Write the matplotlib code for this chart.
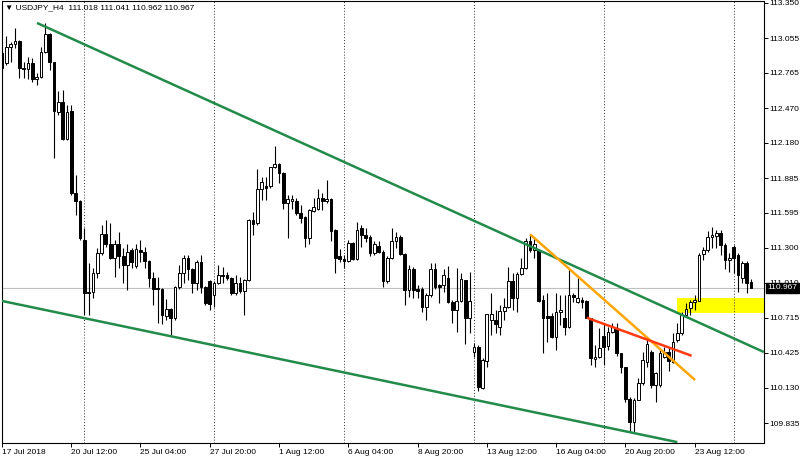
import numpy as np
import matplotlib.pyplot as plt

plt.rcParams['font.family'] = ['Liberation Sans', 'DejaVu Sans']

# USDJPY H4 candles, 17 Jul 2018 20:00 onward
opens = [
    112.93, 112.85, 112.98, 113.01, 113.03, 112.81, 112.80, 112.85, 112.71, 112.73,
    112.94, 113.09, 112.86, 112.44, 112.52, 112.21, 112.45, 111.76, 111.69, 111.37,
    110.93, 110.93, 111.09, 111.26, 111.42, 111.33, 111.22, 111.33, 111.23, 111.16,
    111.28, 111.15, 111.28, 111.27, 111.19, 111.05, 110.96, 110.96, 110.73, 110.79,
    110.71, 110.97, 111.09, 111.22, 111.12, 111.01, 111.18, 110.97, 111.02, 110.91,
    111.01, 111.075, 111.07, 111.05, 110.92, 111.01, 110.94, 111.03, 111.53, 111.51,
    111.79, 111.82, 111.82, 111.98, 112.00, 111.93, 111.68, 111.69, 111.69, 111.59,
    111.56, 111.38, 111.61, 111.63, 111.72, 111.69, 111.71, 111.45, 111.23, 111.21,
    111.19, 111.34, 111.21, 111.47, 111.41, 111.39, 111.26, 111.32, 111.27, 111.02,
    111.22, 111.36, 111.39, 111.25, 110.95, 111.12, 110.96, 110.96, 110.81, 110.91,
    111.12, 110.99, 110.99, 111.05, 110.85, 110.78, 110.86, 111.03, 110.71, 110.43,
    110.47, 110.13, 110.35, 110.70, 110.70, 110.64, 110.77, 110.81, 111.02, 110.88,
    111.08, 111.13, 111.36, 111.28, 111.28, 110.865, 110.73, 110.73, 110.555, 110.765,
    110.71, 110.64, 110.91, 110.85, 110.865, 110.86, 110.71, 110.37, 110.39, 110.56,
    110.48, 110.60, 110.63, 110.42, 110.30, 110.04, 109.84, 110.03, 110.17, 110.345,
    110.43, 110.155, 110.155, 110.39, 110.43, 110.345, 110.53, 110.59, 110.74, 110.80,
    110.85, 110.86, 111.25, 111.28, 111.39, 111.40, 111.425, 111.325, 111.20, 111.31,
    111.24, 111.05, 111.175, 111.018,
]
highs = [
    112.96, 113.07, 113.02, 113.14, 113.04, 112.86, 112.90, 112.89, 112.76, 112.98,
    113.18, 113.10, 112.86, 112.61, 112.62, 112.50, 112.50, 111.91, 111.70, 111.47,
    111.17, 111.13, 111.30, 111.49, 111.53, 111.51, 111.37, 111.43, 111.30, 111.33,
    111.30, 111.33, 111.37, 111.31, 111.20, 111.10, 111.06, 110.965, 110.87, 110.80,
    110.98, 111.16, 111.24, 111.24, 111.13, 111.20, 111.24, 110.98, 111.03, 111.02,
    111.16, 111.14, 111.10, 111.06, 111.07, 111.06, 111.04, 111.54, 111.60, 111.96,
    111.89, 111.89, 111.98, 112.15, 112.01, 111.935, 111.74, 111.74, 111.72, 111.66,
    111.565, 111.63, 111.72, 111.79, 111.76, 111.87, 111.72, 111.455, 111.29, 111.24,
    111.37, 111.35, 111.52, 111.49, 111.47, 111.41, 111.36, 111.36, 111.28, 111.23,
    111.47, 111.43, 111.41, 111.26, 111.16, 111.14, 110.99, 110.97, 110.92, 111.17,
    111.17, 110.995, 111.12, 111.15, 110.865, 111.13, 111.09, 111.035, 111.10, 110.505,
    110.49, 110.38, 110.75, 110.92, 110.78, 110.82, 110.88, 111.14, 111.09, 111.10,
    111.22, 111.38, 111.42, 111.38, 111.29, 110.91, 110.92, 110.755, 110.92, 110.91,
    110.905, 111.12, 110.92, 111.05, 110.89, 110.865, 110.715, 110.49, 110.63, 110.66,
    110.64, 110.67, 110.67, 110.425, 110.305, 110.05, 110.045, 110.21, 110.43, 110.53,
    110.45, 110.26, 110.45, 110.47, 110.47, 110.59, 110.67, 110.76, 110.84, 110.865,
    110.905, 111.26, 111.31, 111.44, 111.475, 111.45, 111.45, 111.34, 111.26, 111.325,
    111.26, 111.19, 111.19, 111.041,
]
lows = [
    112.80, 112.83, 112.86, 112.97, 112.72, 112.72, 112.71, 112.69, 112.66, 112.72,
    112.93, 112.79, 112.05, 112.41, 112.20, 112.20, 111.74, 111.58, 111.37, 110.74,
    110.74, 110.88, 111.05, 111.24, 111.31, 111.21, 111.06, 111.13, 111.01, 110.95,
    111.13, 111.13, 111.18, 111.13, 110.97, 110.82, 110.67, 110.66, 110.70, 110.57,
    110.70, 110.96, 111.01, 111.03, 110.92, 110.95, 110.92, 110.82, 110.78, 110.81,
    111.00, 111.01, 111.03, 110.91, 110.91, 110.92, 110.74, 111.02, 111.41, 111.49,
    111.70, 111.70, 111.80, 111.97, 111.84, 111.63, 111.38, 111.63, 111.58, 111.51,
    111.31, 111.33, 111.60, 111.62, 111.62, 111.68, 111.36, 111.09, 111.18, 111.13,
    111.18, 111.20, 111.20, 111.31, 111.35, 111.23, 111.24, 111.26, 110.97, 111.01,
    111.21, 111.30, 111.24, 110.82, 110.89, 110.88, 110.88, 110.76, 110.70, 110.89,
    110.96, 110.84, 110.93, 110.84, 110.67, 110.60, 110.85, 110.50, 110.59, 110.39,
    110.10, 110.12, 110.30, 110.57, 110.59, 110.57, 110.70, 110.80, 110.78, 110.76,
    111.07, 111.12, 111.27, 111.22, 110.85, 110.42, 110.51, 110.55, 110.45, 110.655,
    110.57, 110.63, 110.85, 110.84, 110.80, 110.71, 110.32, 110.30, 110.38, 110.32,
    110.45, 110.59, 110.40, 110.25, 110.01, 109.76, 109.75, 110.025, 110.155, 110.30,
    110.13, 110.01, 110.14, 110.38, 110.27, 110.34, 110.51, 110.57, 110.72, 110.74,
    110.78, 110.855, 111.20, 111.27, 111.30, 111.30, 111.24, 111.12, 111.10, 111.09,
    110.93, 111.01, 110.92, 110.962,
]
closes = [
    112.81, 112.98, 113.01, 113.03, 112.81, 112.80, 112.85, 112.71, 112.73, 112.94,
    113.09, 112.86, 112.45, 112.52, 112.21, 112.44, 111.76, 111.69, 111.38, 110.92,
    110.92, 111.09, 111.26, 111.42, 111.33, 111.22, 111.33, 111.23, 111.16, 111.27,
    111.18, 111.29, 111.27, 111.19, 111.05, 110.96, 110.955, 110.74, 110.79, 110.71,
    110.97, 111.09, 111.22, 111.12, 111.01, 111.18, 110.97, 110.84, 110.83, 111.01,
    111.07, 111.065, 111.05, 110.92, 111.01, 110.94, 111.03, 111.53, 111.50, 111.79,
    111.85, 111.80, 111.98, 112.00, 111.93, 111.68, 111.71, 111.71, 111.59, 111.55,
    111.38, 111.62, 111.64, 111.72, 111.69, 111.71, 111.44, 111.22, 111.21, 111.19,
    111.34, 111.21, 111.45, 111.41, 111.38, 111.26, 111.33, 111.27, 111.02, 111.22,
    111.36, 111.39, 111.25, 110.95, 111.12, 110.95, 110.94, 110.81, 110.91, 111.12,
    110.97, 110.97, 111.07, 110.85, 110.78, 110.86, 111.04, 110.71, 110.86, 110.47,
    110.14, 110.36, 110.75, 110.75, 110.66, 110.77, 110.81, 111.02, 110.88, 111.08,
    111.13, 111.36, 111.28, 111.33, 110.86, 110.71, 110.71, 110.555, 110.765, 110.78,
    110.64, 110.91, 110.89, 110.88, 110.85, 110.715, 110.38, 110.39, 110.46, 110.47,
    110.60, 110.64, 110.42, 110.30, 110.04, 109.84, 110.03, 110.17, 110.36, 110.50,
    110.155, 110.255, 110.42, 110.43, 110.355, 110.51, 110.59, 110.74, 110.79, 110.85,
    110.865, 111.24, 111.28, 111.39, 111.41, 111.425, 111.325, 111.20, 111.215, 111.215,
    111.075, 111.175, 111.01, 110.967,
]

time_labels = ['17 Jul 2018', '20 Jul 12:00', '25 Jul 04:00', '27 Jul 20:00',
               '1 Aug 12:00', '6 Aug 04:00', '8 Aug 20:00', '13 Aug 12:00',
               '16 Aug 04:00', '20 Aug 20:00', '23 Aug 12:00']
label_bars = [0, 16, 32, 48, 64, 80, 96, 112, 128, 144, 160]
week_starts = [19, 49, 79, 109, 139, 169]
price_ticks = [113.350, 113.055, 112.765, 112.470, 112.180, 111.885, 111.595,
               111.300, 111.010, 110.715, 110.425, 110.130, 109.835]
last_price = 110.967

# drawn objects: (bar index, price) end points
upper_line = ([8.1, 176.0], [113.183, 110.429])
lower_line = ([-0.3, 156.0], [110.859, 109.675])
orange_line = ([122.0, 160.1], [111.414, 110.195])
red_line = ([135.1, 159.3], [110.716, 110.398])
zone_bars = [155.9, 177.0]
zone_prices = [110.752, 110.881]

fig = plt.figure(figsize=(8, 4.58), dpi=100)
ax = fig.add_axes([1.5 / 800, 15 / 458, 762 / 800, 442 / 458])

o = np.array(opens)
h = np.array(highs)
l = np.array(lows)
c = np.array(closes)
x = np.arange(len(o))

# background stuff
ax.fill_between(zone_bars, zone_prices[0], zone_prices[1], color='#FFFF00', lw=0, zorder=1)
ax.axhline(last_price, color='#C0C0C0', lw=0.8, zorder=1)
for b in week_starts:
    ax.axvline(b, color='#333333', ls=(0, (1, 2)), lw=0.7, zorder=2)

# candles
w = 0.62
ax.vlines(x, l, h, color='black', lw=0.8, zorder=3)
bull = c >= o
height = np.maximum(np.abs(c - o), 0.006)
bottom = np.minimum(o, c)
ax.bar(x[bull], height[bull], w, bottom=bottom[bull], color='white',
       edgecolor='black', lw=0.7, zorder=4)
ax.bar(x[~bull], height[~bull], w, bottom=bottom[~bull], color='black',
       edgecolor='black', lw=0.7, zorder=4)

# trend lines
ax.plot(*upper_line, color='#228B4A', lw=1.8, zorder=5, solid_capstyle='butt')
ax.plot(*lower_line, color='#228B4A', lw=1.8, zorder=5, solid_capstyle='butt')
ax.plot(*orange_line, color='#FFA500', lw=1.8, zorder=5, solid_capstyle='butt')
ax.plot(*red_line, color='#FF3A10', lw=1.8, zorder=5, solid_capstyle='butt')

ax.set_xlim(-0.1, 175.9)
ax.set_ylim(113.375 - 443 / 119.5, 113.375 - 1 / 119.5)

ax.set_xticks(label_bars)
ax.set_xticklabels(time_labels, ha='left', fontsize=6)
ax.tick_params(axis='x', direction='out', length=3, width=0.7, pad=1)
ax.yaxis.tick_right()
ax.set_yticks(price_ticks)
ax.set_yticklabels(['%.3f' % p for p in price_ticks], fontsize=6)
ax.tick_params(axis='y', direction='out', length=3, width=0.7, pad=1)
for s in ax.spines.values():
    s.set_linewidth(0.8)

ax.text(0.004, 0.984, '\u25bc USDJPY_H4  111.018 111.041 110.962 110.967',
        transform=ax.transAxes, fontsize=6, va='center', ha='left')

ax.annotate('%.3f' % last_price, xy=(1.0, last_price),
            xycoords=('axes fraction', 'data'), xytext=(3, 0),
            textcoords='offset points', ha='left', va='center', fontsize=6,
            color='white', annotation_clip=False, zorder=10,
            bbox=dict(boxstyle='square,pad=0.2', fc='black', ec='black'))

fig.savefig('out.png', dpi=100)
